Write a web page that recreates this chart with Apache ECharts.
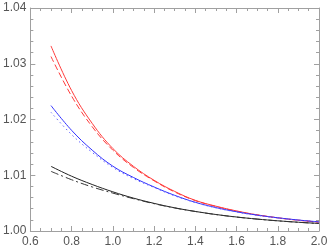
<!DOCTYPE html>
<html>
<head>
<meta charset="utf-8">
<script src="https://cdn.jsdelivr.net/npm/echarts@6/dist/echarts.min.js"></script>
<style>html,body{margin:0;padding:0;background:#fff}#c{width:331px;height:252px}</style>
</head>
<body>
<div id="c"></div>
<script>
var xs = [0.7,0.8,0.9,1.0,1.1,1.2,1.3,1.4,1.5,1.6,1.7,1.8,1.9,2.0];
var redSolid  = [1.0332,1.0252,1.0193,1.0148,1.0116,1.0091,1.0071,1.0055,1.00445,1.0036,1.0029,1.00237,1.00194,1.00159];
var redDashed = [1.0313,1.0242,1.0187,1.0145,1.0114,1.0090,1.0070,1.00545,1.0044,1.00355,1.00288,1.00235,1.00192,1.00158];
var blueSolid = [1.0225,1.01806,1.0145,1.01163,1.0096,1.0079,1.0064,1.00515,1.0042,1.00345,1.00285,1.00237,1.00197,1.00164];
var blueDotted= [1.0213,1.0173,1.0141,1.0114,1.0094,1.0078,1.0063,1.0051,1.00415,1.0034,1.0028,1.00233,1.00194,1.00162];
var blackSolid= [1.0116,1.00983,1.00834,1.00703,1.0059,1.00496,1.00416,1.00351,1.00296,1.00251,1.00214,1.00183,1.00157,1.00135];
var blackDash = [1.0107,1.0092,1.0079,1.0068,1.0058,1.0049,1.00413,1.0035,1.00295,1.0025,1.00213,1.00182,1.00156,1.00134];

function pairs(ys){ return xs.map(function(x,i){ return [x, ys[i]]; }); }

var axisCol = '#a0a0a0';
var labelStyle = {color:'#555', fontSize:12, fontFamily:'Liberation Sans'};
function xAx(pos, show){
  return {type:'value', position:pos, min:0.6, max:2.0, interval:0.2,
    axisLine:{show:true, onZero:false, lineStyle:{color:axisCol, width:1}},
    axisTick:{show:true, inside:true, length:5, lineStyle:{color:axisCol}},
    minorTick:{show:true, splitNumber:4, length:3, lineStyle:{color:axisCol}},
    splitLine:{show:false},
    axisLabel:Object.assign({show:show, margin:5, formatter:function(v){return v.toFixed(1);}}, labelStyle)};
}
function yAx(pos, show){
  return {type:'value', position:pos, min:1.0, max:1.04, interval:0.01,
    axisLine:{show:true, onZero:false, lineStyle:{color:axisCol, width:1}},
    axisTick:{show:true, inside:true, length:5, lineStyle:{color:axisCol}},
    minorTick:{show:true, splitNumber:5, length:3, lineStyle:{color:axisCol}},
    splitLine:{show:false},
    axisLabel:Object.assign({show:show, margin:4, formatter:function(v){return v.toFixed(2);}}, labelStyle)};
}
function ser(name, ys, color, type){
  return {name:name, type:'line', data:pairs(ys), smooth:0.4, showSymbol:false, symbol:'none',
    xAxisIndex:0, yAxisIndex:0,
    lineStyle:{color:color, width:1, type:type}};
}
var chart = echarts.init(document.getElementById('c'), null, {renderer:'canvas'});
chart.setOption({
  animation:false,
  grid:{left:29, right:12, top:8, bottom:21},
  xAxis:[xAx('bottom', true), xAx('top', false)],
  yAxis:[yAx('left', true), yAx('right', false)],
  series:[
    ser('redSolid', redSolid, '#ff3a3a', 'solid'),
    ser('redDashed', redDashed, '#ff3a3a', [6,3]),
    ser('blueSolid', blueSolid, '#3030ff', 'solid'),
    ser('blueDotted', blueDotted, '#6060ff', [1.5,3]),
    ser('blackSolid', blackSolid, '#222', 'solid'),
    ser('blackDash', blackDash, '#333', [8,3,2,3])
  ]
});
</script>
</body>
</html>
